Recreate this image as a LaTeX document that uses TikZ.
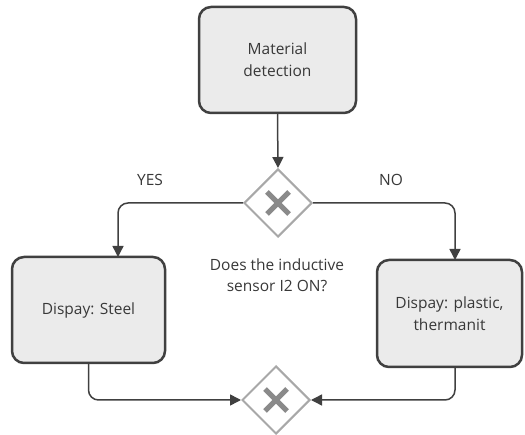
\documentclass[tikz,border=0pt]{standalone}
\usepackage{fontspec}
\setmainfont{Open Sans}
\usetikzlibrary{shapes.geometric,arrows.meta}
\definecolor{boxfill}{HTML}{EBEBEB}
\definecolor{boxline}{HTML}{404040}
\definecolor{gwline}{HTML}{A8A8A8}
\definecolor{gwx}{HTML}{8A8A8A}
\definecolor{txt}{HTML}{383838}
\tikzset{
  taskbox/.style={draw=boxline, line width=2.5pt, fill=boxfill, rounded corners=12pt, align=center, text=txt, inner sep=0pt, font=\fontsize{15.5}{22}\selectfont},
  gateway/.style={draw=gwline, line width=2pt, fill=white, shape=diamond, minimum width=68pt, minimum height=68pt, inner sep=0pt},
  flow/.style={draw=boxline, line width=1.5pt, rounded corners=10pt, -{Triangle[length=11pt,width=11pt]}},
  lbl/.style={text=txt, font=\fontsize{15.5}{21}\selectfont, align=center}
}
\newcommand{\gwcross}[1]{%
  \draw[gwx, line width=5pt] ([xshift=-11pt,yshift=-11pt]#1.center) -- ([xshift=11pt,yshift=11pt]#1.center);
  \draw[gwx, line width=5pt] ([xshift=-11pt,yshift=11pt]#1.center) -- ([xshift=11pt,yshift=-11pt]#1.center);}
\begin{document}
\begin{tikzpicture}[x=1pt,y=-1pt]
\useasboundingbox (0,0) rectangle (525,435);
\node[taskbox, minimum width=157pt, minimum height=106pt] (top) at (277.5,60) {Material\\detection};
\node[gateway] (d1) at (278,203) {};
\gwcross{d1}
\node[taskbox, minimum width=153pt, minimum height=106pt] (lb) at (88.5,310) {Dispay: Steel};
\node[taskbox, minimum width=145pt, minimum height=107pt] (rb) at (449.5,313.5) {Dispay: plastic,\\thermanit};
\node[gateway] (d2) at (276,400) {};
\gwcross{d2}
\coordinate (lbin) at (118,257);
\coordinate (rbin) at (455,260);
\coordinate (rbout) at (455,367);
\draw[flow] (top.south) -- (d1.north);
\draw[flow] (d1.west) -| (lbin);
\draw[flow] (d1.east) -| (rbin);
\draw[flow] (lb.south) |- (d2.west);
\draw[flow] (rbout) |- (d2.east);
\node[lbl] (yes) at (150,180) {YES};
\node[lbl] (no) at (391,180) {NO};
\node[lbl] (q) at (277,275) {Does the inductive\\sensor I2 ON?};
\end{tikzpicture}
\end{document}
